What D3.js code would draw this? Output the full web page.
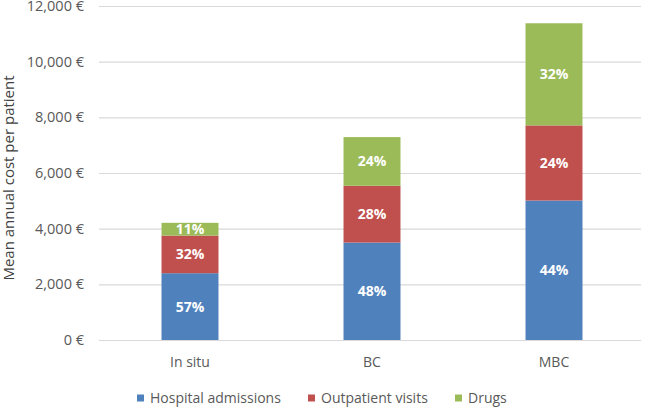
<!DOCTYPE html>
<html>
<head>
<meta charset="utf-8">
<script src="https://cdn.jsdelivr.net/npm/d3@7"></script>
<style>
  body { margin: 0; background: #fff; }
  svg { display: block; font-family: "Open Sans", "Noto Sans", sans-serif; }
</style>
</head>
<body>
<script>
// chart data
const categories = ['In situ', 'BC', 'MBC'];
const seriesNames = ['Hospital admissions', 'Outpatient visits', 'Drugs'];
const hospital = [2400, 3500, 5010];
const outpatient = [1350, 2040, 2700];
const drugs = [460, 1750, 3670];
const yTicks = [0, 2000, 4000, 6000, 8000, 10000, 12000];

const colors = ['#4F81BD', '#C0504D', '#9BBB59'];

const width = 645, height = 407;
const svg = d3.select('body').append('svg')
    .attr('width', width)
    .attr('height', height);

const x = d3.scaleBand()
    .domain(categories)
    .range([99, 645])
    .paddingInner(0.687)
    .paddingOuter(0.3435);

const y = d3.scaleLinear()
    .domain([0, 12000])
    .range([340, 6]);

// gridlines
svg.append('g').selectAll('line')
    .data(yTicks)
    .join('line')
    .attr('x1', 99)
    .attr('x2', 641)
    .attr('y1', d => y(d) + 0.5)
    .attr('y2', d => y(d) + 0.5)
    .style('stroke', '#d9d9d9')
    .style('stroke-width', 1.2);

// y tick labels
const fmt = d3.format(',');
svg.append('g').selectAll('text')
    .data(yTicks)
    .join('text')
    .attr('x', 84)
    .attr('y', d => y(d))
    .attr('dy', '0.35em')
    .attr('text-anchor', 'end')
    .style('font-size', '14.5px')
    .style('fill', '#595959')
    .text(d => fmt(d) + ' €');

// y axis title
svg.append('text')
    .attr('transform', 'translate(14,178) rotate(-90)')
    .attr('text-anchor', 'middle')
    .style('font-size', '15px')
    .style('fill', '#404040')
    .text('Mean annual cost per patient');

// stack the data
const rows = categories.map((c, i) => ({
    cat: c,
    'Hospital admissions': hospital[i],
    'Outpatient visits': outpatient[i],
    'Drugs': drugs[i]
}));
const stack = d3.stack().keys(seriesNames)(rows);

const layers = svg.append('g').selectAll('g')
    .data(stack)
    .join('g')
    .style('fill', (d, i) => colors[i]);

layers.selectAll('rect')
    .data(d => d)
    .join('rect')
    .attr('x', d => x(d.data.cat))
    .attr('width', x.bandwidth())
    .attr('y', d => y(d[1]))
    .attr('height', d => y(d[0]) - y(d[1]));

// percentage labels
layers.selectAll('text')
    .data(d => d)
    .join('text')
    .attr('x', d => x(d.data.cat) + x.bandwidth() / 2)
    .attr('y', d => (y(d[0]) + y(d[1])) / 2)
    .attr('dy', '0.36em')
    .attr('text-anchor', 'middle')
    .style('fill', '#fff')
    .style('font-size', '14px')
    .style('font-weight', 'bold')
    .text(d => {
        const total = d3.sum(seriesNames, k => d.data[k]);
        return Math.round((d[1] - d[0]) / total * 100) + '%';
    });

// category labels
svg.append('g').selectAll('text')
    .data(categories)
    .join('text')
    .attr('x', d => x(d) + x.bandwidth() / 2)
    .attr('y', 362)
    .attr('dy', '0.35em')
    .attr('text-anchor', 'middle')
    .style('font-size', '14px')
    .style('fill', '#595959')
    .text(d => d);

// legend
const legendX = [137, 308, 455];
const legend = svg.append('g').selectAll('g')
    .data(seriesNames)
    .join('g')
    .attr('transform', (d, i) => `translate(${legendX[i]},398)`);

legend.append('rect')
    .attr('x', 0)
    .attr('y', -3.5)
    .attr('width', 7)
    .attr('height', 7)
    .style('fill', (d, i) => colors[i]);

legend.append('text')
    .attr('x', 13)
    .attr('y', 0)
    .attr('dy', '0.35em')
    .style('font-size', '14px')
    .style('fill', '#595959')
    .text(d => d);
</script>
</body>
</html>
